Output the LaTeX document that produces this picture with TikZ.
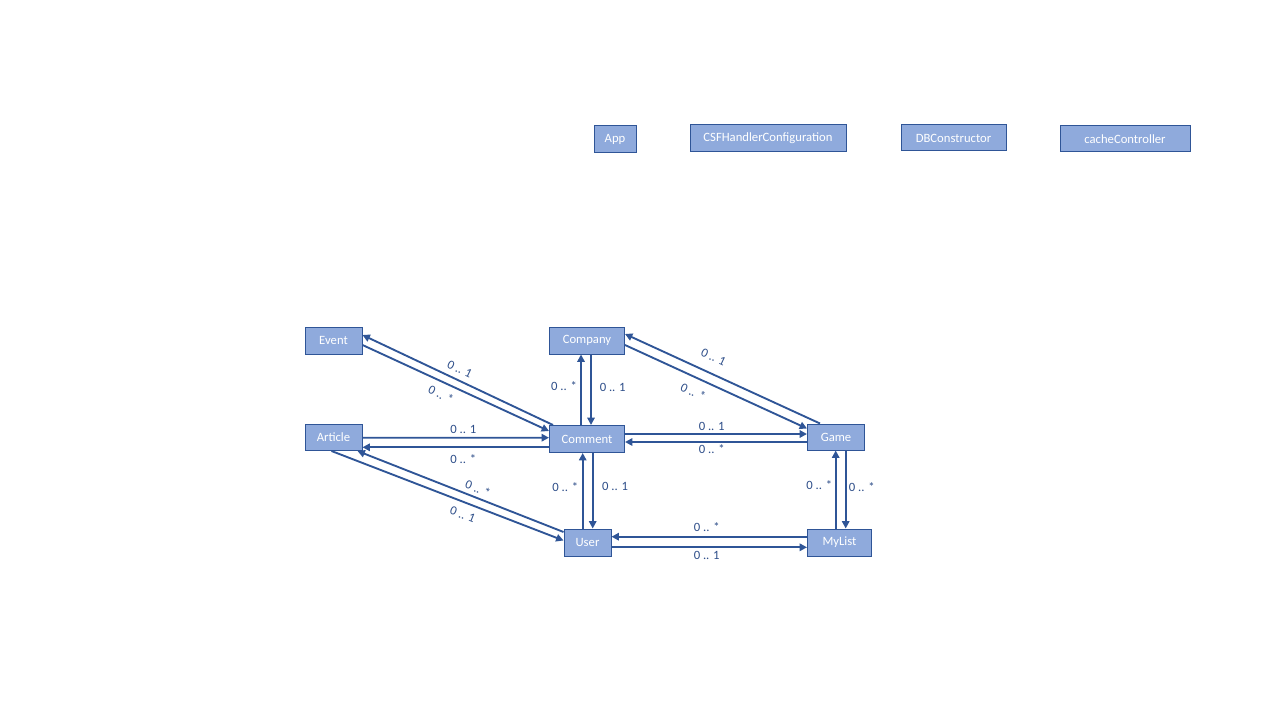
\documentclass[tikz,border=0pt]{standalone}
\usepackage{fontspec}
\setmainfont{Carlito}
\usetikzlibrary{arrows.meta,calc}
\definecolor{boxfill}{HTML}{8FAADC}
\definecolor{boxdraw}{HTML}{2F5597}
\definecolor{linecol}{HTML}{2F5597}
\definecolor{labcol}{HTML}{2F4F8A}
\begin{document}
\begin{tikzpicture}[x=0.75pt,y=-0.75pt,
 cls/.style={draw=boxdraw,fill=boxfill,line width=0.75pt,text=white,font=\fontsize{9.5}{11}\selectfont,inner sep=0pt},
 wpx/.style={minimum width=#1*0.75pt},
 hpx/.style={minimum height=#1*0.75pt},
 conn/.style={draw=linecol,line width=1.4pt,-{Triangle[length=5.5pt,width=5.5pt]}},
 lab/.style={text=labcol,font=\fontsize{9.5}{11}\selectfont,inner sep=0pt}]
\useasboundingbox (0,0) rectangle (1280,720);
\fill[white] (0,0) rectangle (1280,720);
% top row
\node[cls,wpx=42,hpx=27]  (app)   at (615,139.5) {App};
\node[cls,wpx=156,hpx=27] (csf)   at (768,138.5) {CSFHandlerConfiguration};
\node[cls,wpx=105,hpx=26] (dbc)   at (953.5,138) {DBConstructor};
\node[cls,wpx=130,hpx=26] (cache) at (1125,139) {cacheController};
% classes
\node[cls,wpx=57,hpx=27] (event)   at (333.5,340.5) {Event};
\node[cls,wpx=75,hpx=27] (company) at (587,340.5) {Company};
\node[cls,wpx=57,hpx=26] (article) at (333.5,437.5) {Article};
\node[cls,wpx=75,hpx=27] (comment) at (587,439) {Comment};
\node[cls,wpx=57,hpx=26] (game)    at (836,437) {Game};
\node[cls,wpx=47,hpx=27] (user)    at (587.5,542.5) {User};
\node[cls,wpx=64,hpx=27] (mylist)  at (839.5,542.5) {MyList};
% Event - Comment
\draw[conn] ($(comment.north west)+(4,0)$) -- ($(event.east)+(0,-5.5)$);
\draw[conn] ($(event.east)+(0,4.5)$) -- ($(comment.west)+(0,-8)$);
% Article - Comment
\draw[conn] ($(article.east)+(0,0.2)$) -- ($(comment.west)+(0,-1.3)$);
\draw[conn] ($(comment.west)+(0,8.3)$) -- ($(article.east)+(0,9.8)$);
% Article - User
\draw[conn] ($(article.south)+(-2,0)$) -- ($(user.west)+(0,-2)$);
\draw[conn] ($(user.north west)+(0,3.5)$) -- ($(article.south east)+(-5,0)$);
% Comment - Company
\draw[conn] ($(comment.north)+(-6,0)$) -- ($(company.south)+(-6,0)$);
\draw[conn] ($(company.south)+(4,0)$) -- ($(comment.north)+(4,0)$);
% Comment - User
\draw[conn] ($(user.north)+(-4.8,0)$) -- ($(comment.south)+(-4.3,0)$);
\draw[conn] ($(comment.south)+(5.7,0)$) -- ($(user.north)+(5.2,0)$);
% Comment - Game
\draw[conn] ($(comment.east)+(0,-5)$) -- ($(game.west)+(0,-3)$);
\draw[conn] ($(game.west)+(0,5)$) -- ($(comment.east)+(0,3)$);
% Company - Game
\draw[conn] ($(game.north)+(-16,0)$) -- ($(company.east)+(0,-6.5)$);
\draw[conn] ($(company.east)+(0,4.5)$) -- ($(game.north west)+(0,5)$);
% Game - MyList
\draw[conn] ($(mylist.north)+(-3.8,0)$) -- ($(game.south)+(-0.3,0)$);
\draw[conn] ($(game.south)+(9.7,0)$) -- ($(mylist.north)+(6.2,0)$);
% User - MyList
\draw[conn] ($(mylist.west)+(0,-5.8)$) -- ($(user.east)+(0,-5.8)$);
\draw[conn] ($(user.east)+(0,4.8)$) -- ($(mylist.west)+(0,4.8)$);
% labels
\node[lab,rotate=-25.5] (l1) at (459.8,369.2) {0 .. 1};
\node[lab,rotate=-25.5] (l2) at (441,394.5) {0 .. *};
\node[lab] (l3) at (463.3,429) {0 .. 1};
\node[lab] (l4) at (463.3,459) {0 .. *};
\node[lab,rotate=-21.5] (l5) at (478,488.5) {0 .. *};
\node[lab,rotate=-21.5] (l6) at (462.7,514.8) {0 .. 1};
\node[lab] (l7) at (564,386) {0 .. *};
\node[lab] (l8) at (612.7,387) {0 .. 1};
\node[lab] (l9) at (565.3,486.7) {0 .. *};
\node[lab] (l10) at (615,486.7) {0 .. 1};
\node[lab] (l11) at (711.7,426) {0 .. 1};
\node[lab] (l12) at (711.7,449.3) {0 .. *};
\node[lab,rotate=-25] (l13) at (713.5,357.2) {0 .. 1};
\node[lab,rotate=-25] (l14) at (693.2,392.1) {0 .. *};
\node[lab] (l15) at (819.3,485) {0 .. *};
\node[lab] (l16) at (861.7,486.7) {0 .. *};
\node[lab] (l17) at (706.7,527.3) {0 .. *};
\node[lab] (l18) at (706.7,555) {0 .. 1};
\end{tikzpicture}
\end{document}
